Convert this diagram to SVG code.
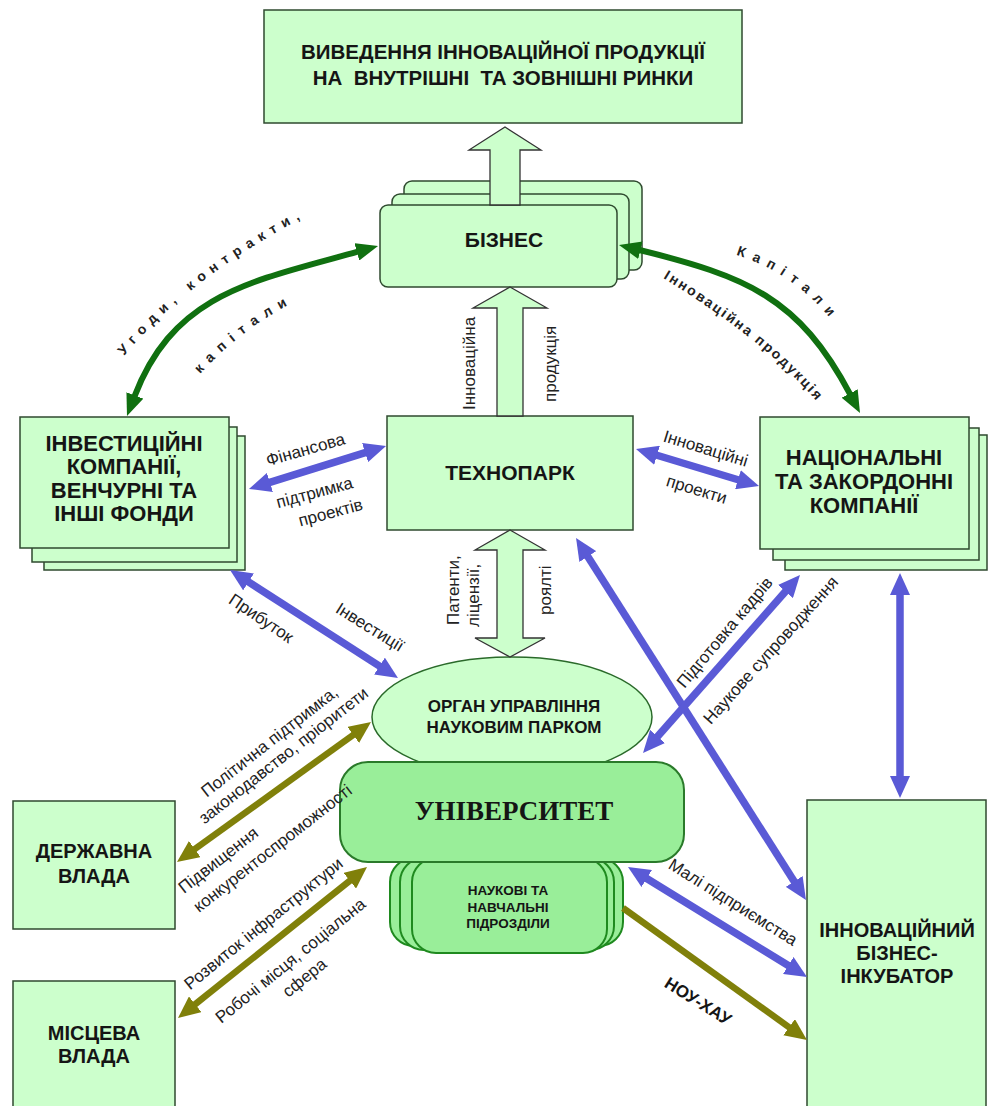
<svg xmlns="http://www.w3.org/2000/svg" width="989" height="1106" viewBox="0 0 989 1106">
<style>
.box{fill:#ccffcc;stroke:#2f4a2f;stroke-width:1.5}
.ell{fill:#ccffcc;stroke:#2a6a2a;stroke-width:1.5}
.uni{fill:#99ee99;stroke:#2a7a2a;stroke-width:2}
.sub{fill:#99ee99;stroke:#1f8a1f;stroke-width:2}
.hollow{fill:#ccffcc;stroke:#333;stroke-width:1.3}
.t{font-family:"Liberation Sans",Arial,sans-serif;font-weight:bold;fill:#151515;text-anchor:middle}
.serif{font-family:"Liberation Serif","Times New Roman",serif;font-weight:bold;fill:#151515;text-anchor:middle}
.lbl{font-family:"Liberation Sans",Arial,sans-serif;font-size:17px;fill:#222;text-anchor:middle}
.lbls{font-family:"Liberation Sans",Arial,sans-serif;font-size:17px;fill:#222;text-anchor:start}
.glbl{font-family:"Liberation Sans",Arial,sans-serif;font-weight:bold;font-size:14px;fill:#222}
.blue{fill:none;stroke:#5a5ad6;stroke-width:7.5}
.olive{fill:none;stroke:#80800a;stroke-width:6.5}
.green{fill:none;stroke:#107010;stroke-width:6}
</style>
<defs>
<marker id="mb" markerUnits="userSpaceOnUse" viewBox="0 0 22 20" markerWidth="22" markerHeight="20" refX="1" refY="10" orient="auto-start-reverse"><path d="M0,0 L22,10 L0,20 z" fill="#5a5ad6"/></marker>
<marker id="mo" markerUnits="userSpaceOnUse" viewBox="0 0 22 20" markerWidth="22" markerHeight="20" refX="1" refY="10" orient="auto-start-reverse"><path d="M0,0 L22,10 L0,20 z" fill="#80800a"/></marker>
<marker id="mg" markerUnits="userSpaceOnUse" viewBox="0 0 22 18" markerWidth="22" markerHeight="18" refX="1" refY="9" orient="auto-start-reverse"><path d="M0,0 L22,9 L0,18 z" fill="#107010"/></marker>
<path id="pUgody" d="M124,356 Q190,276 310,214"/>
<path id="pKapL" d="M200,374 Q240,330 294,302"/>
<path id="pKapR" d="M736,255 Q800,274 844,336"/>
<path id="pInnProd" d="M663,278 Q771,344 824,410"/>
</defs>

<g id="market">
<rect class="box" x="264" y="10" width="478" height="113"/>
<text class="t" x="503" y="59" font-size="20.5">ВИВЕДЕННЯ ІННОВАЦІЙНОЇ ПРОДУКЦІЇ</text>
<text class="t" x="503" y="85" font-size="20.5" xml:space="preserve" style="white-space:pre">НА  ВНУТРІШНІ  ТА ЗОВНІШНІ РИНКИ</text>
</g>

<g id="business">
<rect class="box" x="404" y="181" width="238" height="89" rx="8"/>
<rect class="box" x="392" y="194" width="237" height="85" rx="8"/>
<rect class="box" x="380" y="205" width="237" height="82" rx="8"/>
<text class="t" x="504" y="247" font-size="21">БІЗНЕС</text>
</g>

<g id="investment">
<rect class="box" x="44" y="436" width="201" height="134"/>
<rect class="box" x="32" y="427" width="205" height="135"/>
<rect class="box" x="20" y="417" width="209" height="131"/>
<text class="t" x="124" y="451" font-size="22">ІНВЕСТИЦІЙНІ</text>
<text class="t" x="124" y="474" font-size="22">КОМПАНІЇ,</text>
<text class="t" x="124" y="498" font-size="22">ВЕНЧУРНІ ТА</text>
<text class="t" x="124" y="521" font-size="22">ІНШІ ФОНДИ</text>
</g>

<g id="technopark">
<rect class="box" x="387" y="416" width="246" height="114"/>
<text class="t" x="510" y="480" font-size="21">ТЕХНОПАРК</text>
</g>

<g id="national">
<rect class="box" x="785" y="435" width="202" height="135"/>
<rect class="box" x="773" y="428" width="206" height="132"/>
<rect class="box" x="760" y="417" width="209" height="132"/>
<text class="t" x="864" y="465" font-size="22">НАЦІОНАЛЬНІ</text>
<text class="t" x="864" y="489" font-size="22">ТА ЗАКОРДОННІ</text>
<text class="t" x="864" y="513" font-size="22">КОМПАНІЇ</text>
</g>

<g id="park-management">
<ellipse class="ell" cx="512" cy="717" rx="140" ry="60"/>
<text class="t" x="514" y="712" font-size="17">ОРГАН УПРАВЛІННЯ</text>
<text class="t" x="514" y="733" font-size="17">НАУКОВИМ ПАРКОМ</text>
</g>

<g id="subunits">
<rect class="sub" x="390" y="858" width="233" height="88" rx="24"/>
<rect class="sub" x="400" y="858" width="214" height="92" rx="24"/>
<rect class="sub" x="412" y="858" width="195" height="95" rx="24"/>
<text class="t" x="508" y="895" font-size="13.5">НАУКОВІ ТА</text>
<text class="t" x="508" y="912" font-size="13.5">НАВЧАЛЬНІ</text>
<text class="t" x="508" y="928" font-size="13.5">ПІДРОЗДІЛИ</text>
</g>

<g id="university">
<rect class="uni" x="340" y="762" width="344" height="100" rx="28"/>
<text class="serif" x="514" y="820" font-size="27">УНІВЕРСИТЕТ</text>
</g>

<g id="state">
<rect class="box" x="13" y="801" width="162" height="128"/>
<text class="t" x="94" y="858" font-size="20">ДЕРЖАВНА</text>
<text class="t" x="94" y="883" font-size="20">ВЛАДА</text>
</g>

<g id="local">
<rect class="box" x="13" y="981" width="162" height="135"/>
<text class="t" x="94" y="1040" font-size="20">МІСЦЕВА</text>
<text class="t" x="94" y="1063" font-size="20">ВЛАДА</text>
</g>

<g id="incubator">
<rect class="box" x="807" y="800" width="179" height="316"/>
<text class="t" x="897" y="937" font-size="20">ІННОВАЦІЙНИЙ</text>
<text class="t" x="897" y="960" font-size="20">БІЗНЕС-</text>
<text class="t" x="897" y="983" font-size="20">ІНКУБАТОР</text>
</g>

<g id="connectors">
<polygon class="hollow" points="505,127 541,150 520,150 520,205 490,205 490,150 469,150"/>
<polygon class="hollow" points="510,287 547,308 523,308 523,416 497,416 497,308 473,308"/>
<polygon class="hollow" points="510,530 545,550 523,550 523,638 545,638 510,657 475,638 497,638 497,550 475,550"/>

<path class="green" d="M134.5,396.4 C173.8,293.7 251.7,281.1 357.8,251.6" marker-start="url(#mg)" marker-end="url(#mg)"/>
<path class="green" d="M639.4,250 C746,276.4 798.9,297.1 850.2,394.4" marker-start="url(#mg)" marker-end="url(#mg)"/>

<path class="blue" d="M269,482.7 L366,452.3" marker-start="url(#mb)" marker-end="url(#mb)"/>
<path class="blue" d="M656.1,455 L738.9,480" marker-start="url(#mb)" marker-end="url(#mb)"/>
<path class="blue" d="M247.7,581.4 L380.3,666.6" marker-start="url(#mb)" marker-end="url(#mb)"/>
<path class="blue" d="M587.3,555.7 L794.7,882.3" marker-start="url(#mb)" marker-end="url(#mb)"/>
<path class="blue" d="M786.1,590.8 L656.9,737.2" marker-start="url(#mb)" marker-end="url(#mb)"/>
<path class="blue" d="M900,594 L900,777" marker-start="url(#mb)" marker-end="url(#mb)"/>
<path class="blue" d="M645.9,878 L789.1,966" marker-start="url(#mb)" marker-end="url(#mb)"/>

<path class="olive" d="M354,734.3 L194,849.7" marker-start="url(#mo)" marker-end="url(#mo)"/>
<path class="olive" d="M350.6,880.1 L194.4,1004.9" marker-start="url(#mo)" marker-end="url(#mo)"/>
<path class="olive" d="M623,908 L789.9,1027.8" marker-end="url(#mo)"/>

<text class="glbl" letter-spacing="6.5"><textPath href="#pUgody">Угоди, контракти,</textPath></text>
<text class="glbl" letter-spacing="7.5"><textPath href="#pKapL">капітали</textPath></text>
<text class="glbl" letter-spacing="7.5"><textPath href="#pKapR">Капітали</textPath></text>
<text class="glbl" font-size="15" letter-spacing="2"><textPath href="#pInnProd">Інноваційна продукція</textPath></text>

<text class="lbls" transform="translate(475,410) rotate(-90)">Інноваційна</text>
<text class="lbls" transform="translate(556,402) rotate(-90)">продукція</text>
<text class="lbls" transform="translate(459,625) rotate(-90)">Патенти,</text>
<text class="lbls" transform="translate(479,627) rotate(-90)">ліцензії,</text>
<text class="lbls" transform="translate(551,615) rotate(-90)">роялті</text>

<text class="lbl" transform="translate(307,455) rotate(-16)">Фінансова</text>
<text class="lbl" transform="translate(316,498) rotate(-15)">підтримка</text>
<text class="lbl" transform="translate(332,518) rotate(-15)">проектів</text>
<text class="lbl" transform="translate(704,454) rotate(17)">Інноваційні</text>
<text class="lbl" transform="translate(695,495) rotate(17)">проекти</text>
<text class="lbl" transform="translate(258,623) rotate(34)">Прибуток</text>
<text class="lbl" transform="translate(367,632) rotate(32)">Інвестиції</text>
<text class="lbl" transform="translate(729,636) rotate(-50)">Підготовка кадрів</text>
<text class="lbl" transform="translate(775,654) rotate(-48)">Наукове супроводження</text>
<text class="lbl" transform="translate(730,907) rotate(32)">Малі підприємства</text>

<text class="lbl" transform="translate(273,746) rotate(-38)">Політична підтримка,</text>
<text class="lbl" transform="translate(287,760) rotate(-38)">законодавство, пріоритети</text>
<text class="lbls" transform="translate(184,894) rotate(-38)">Підвищення</text>
<text class="lbls" transform="translate(199,913) rotate(-38)">конкурентоспроможності</text>
<text class="lbl" transform="translate(267,928) rotate(-39)">Розвиток інфраструктури</text>
<text class="lbl" transform="translate(294,965) rotate(-39)">Робочі місця, соціальна</text>
<text class="lbl" transform="translate(308,982) rotate(-39)">сфера</text>
<text class="t" font-size="17" transform="translate(695,1006) rotate(32)">НОУ-ХАУ</text>
</g>
</svg>
